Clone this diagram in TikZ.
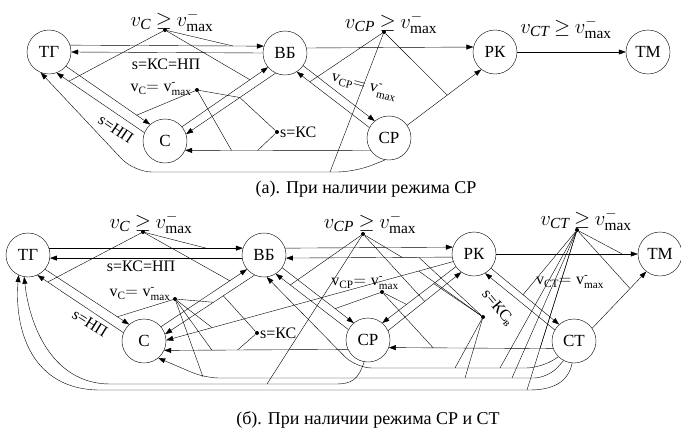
\documentclass[tikz,border=0pt]{standalone}
\usepackage{fontspec}
\setmainfont{Liberation Serif}
\usepackage{amsmath}
\usetikzlibrary{arrows.meta}

\newcommand{\cond}[1]{$v_{\mathit{#1}}\mkern-1mu\geq\mkern-1mu v^{-}_{\max}$}
\newcommand{\eqc}[1]{$\mathrm{v}_{\mathrm{#1}}\mathrm{=v}^{\text{-}}_{\mathrm{max}}$}

\begin{document}
\begin{tikzpicture}[x=1pt, y=-1pt, thin,
    st/.style={circle, draw, minimum size=44pt, inner sep=0pt, font=\fontsize{17}{17}\selectfont},
    jn/.style={circle, fill, inner sep=0pt, minimum size=4pt},
    lab/.style={inner sep=1pt, font=\fontsize{16}{16}\selectfont},
    big/.style={inner sep=0pt, anchor=base, font=\fontsize{22}{22}\selectfont},
    capt/.style={inner sep=1pt, font=\fontsize{18}{18}\selectfont},
    arr/.style={-{Triangle[length=7pt, width=5pt]}}]
    \useasboundingbox (0,0) rectangle (681,434);

    % (a) states
    \node[st] (TGa) at (49,52) {ТГ};
    \node[st] (VBa) at (285,53) {ВБ};
    \node[st] (RKa) at (495,52) {РК};
    \node[st] (TMa) at (648,52) {ТМ};
    \node[st] (Ca) at (165,141) {С};
    \node[st] (CPa) at (389,138) {СР};

    % (a) condition points
    \node[jn] (dCa) at (165,30) {};
    \node[jn] (dCva) at (197,90) {};
    \node[jn] (dKSa) at (277,132) {};
    \node[jn] (dCPa) at (384,32) {};
    \node[big] at (172,26) {\cond{C}};
    \node[big] at (391,28) {\cond{CP}};
    \node[big] at (566,33) {\cond{CT}};
    \node[lab] at (161,89) {\eqc{C}};
    \node[lab, anchor=west] at (279,132) {s=КС};
    \node[lab] at (166,64) {s=КС=НП};
    \node[lab, rotate=-34] at (116,129) {s=НП};
    \node[lab, rotate=-15] at (364,87) {\eqc{CP}};

    % (a) transitions
    \draw[arr] (TGa.18) -- coordinate[pos=.84] (a1) (VBa.162);
    \draw[arr] (VBa.180) -- (TGa.0);
    \draw[arr] (TGa.-40) -- coordinate[pos=.84] (a11) (Ca.132);
    \draw[arr] (Ca.158) -- coordinate[pos=.86] (a2) (TGa.-70);
    \draw[arr] (Ca.40) -- coordinate[pos=.79] (a3) (VBa.220);
    \draw[arr] (VBa.245) -- coordinate[pos=.40] (a4) (Ca.18);
    \draw[arr] (VBa.-35) -- (CPa.130);
    \draw[arr] (CPa.152) -- coordinate[pos=.82] (a6) (VBa.-58);
    \draw[arr] (VBa.13) -- (RKa.167);
    \draw[arr] (CPa.35) -- coordinate[pos=.54] (a7) (RKa.232);
    \draw[arr] (RKa.0) -- (TMa.180);
    \draw[arr] (CPa.-145) -- coordinate[pos=.75] (a8) coordinate[pos=.61] (a9) (Ca.-25);
    \draw[arr, rounded corners=18pt] (CPa.-100) -- (355,172) -- (134,172) -- (TGa.-112);
    \coordinate (a10) at (330,172);

    % (a) condition lines
    \draw (dCa) -- (a1);
    \draw (dCa) -- (a2);
    \draw (dCa) -- (a3);
    \draw (dCva) -- (a11);
    \draw (dCva) -- (a4);
    \draw (dCva) -- (a8);
    \draw (dKSa) -- (a4);
    \draw (dKSa) -- (a9);
    \draw (dCPa) -- (a6);
    \draw (dCPa) -- (a7);
    \draw (dCPa) -- (a10);

    \node[capt] at (366,189) {(а). При наличии режима СР};

    % (b) states
    \node[st] (TGb) at (28,255) {ТГ};
    \node[st] (VBb) at (264,255) {ВБ};
    \node[st] (RKb) at (474,254) {РК};
    \node[st] (TMb) at (660,254) {ТМ};
    \node[st] (Cb) at (144,341) {С};
    \node[st] (CPb) at (368,340) {СР};
    \node[st] (CTb) at (574,341) {СТ};

    % (b) condition points
    \node[jn] (dCb) at (143,232) {};
    \node[jn] (dCvb) at (175,299) {};
    \node[jn] (dKSb) at (257,333) {};
    \node[jn] (dCPb) at (363,234) {};
    \node[jn] (dCPvb) at (382,292) {};
    \node[jn] (dKSvb) at (483,317) {};
    \node[jn] (dCTb) at (577,230) {};
    \node[big] at (151,228) {\cond{C}};
    \node[big] at (370,228) {\cond{CP}};
    \node[big] at (586,225) {\cond{CT}};
    \node[lab] at (141,266) {s=КС=НП};
    \node[lab, rotate=-32] at (90,323) {s=НП};
    \node[lab] at (140,294) {\eqc{C}};
    \node[lab, anchor=west] at (259,333) {s=КС};
    \node[lab] at (365,283) {\eqc{CP}};
    \node[lab] at (570,282) {\eqc{CT}};
    \node[lab, rotate=-50] at (498,308) {s=КС\textsubscript{в}};

    % (b) transitions
    \draw[arr] (TGb.18) -- coordinate[pos=.81] (b1) (VBb.162);
    \draw[arr] (VBb.188) -- (TGb.-8);
    \draw[arr] (VBb.18) -- (RKb.162);
    \draw[arr] (RKb.188) -- coordinate[pos=.30] (b4) coordinate[pos=.20] (b4k) (VBb.-8);
    \draw[arr] (RKb.0) -- coordinate[pos=.89] (b5) (TMb.180);
    \draw[arr] (TGb.-40) -- coordinate[pos=.86] (b6) (Cb.132);
    \draw[arr] (Cb.158) -- coordinate[pos=.88] (b7) (TGb.-65);
    \draw[arr] (Cb.40) -- coordinate[pos=.80] (b8) (VBb.220);
    \draw[arr] (VBb.245) -- coordinate[pos=.46] (b9) coordinate[pos=.35] (b9k) (Cb.18);
    \draw[arr] (VBb.-35) -- coordinate[pos=.74] (b10) (CPb.130);
    \draw[arr] (CPb.152) -- coordinate[pos=.80] (b11) (VBb.-58);
    \draw[arr] (RKb.200) -- coordinate[pos=.84] (b13) coordinate[pos=.12] (b13k) (Cb.2);
    \draw[arr] (CPb.25) -- coordinate[pos=.5] (b14) (RKb.235);
    \draw[arr] (RKb.215) -- coordinate[pos=.67] (b15) coordinate[pos=.3] (b15k) (CPb.50);
    \draw[arr] (RKb.-40) -- coordinate[pos=.47] (b16) (CTb.132);
    \draw[arr] (CTb.150) -- (RKb.-60);
    \draw[arr] (CTb.35) -- coordinate[pos=.70] (b18) (TMb.232);
    \draw[arr] (CTb.-160) -- coordinate[pos=.73] (b19) coordinate[pos=.08] (b19t) (CPb.-20);
    \draw[arr] (CPb.-155) -- coordinate[pos=.74] (b20) coordinate[pos=.6] (b20k) (Cb.-25);
    \draw[arr, rounded corners=16pt] (CTb.-135) -- (542,368) -- (356,368) -- (VBb.-83);
    \draw[arr, rounded corners=14pt] (CTb.-118) -- (548,378) -- (205,378) -- (Cb.-50);
    \draw[arr] (CPb.-100) .. controls (358,380) and (352,384) .. (335,384) -- (110,384) .. controls (55,384) and (30,330) .. (TGb.-100);
    \draw[arr] (CTb.-95) .. controls (570,376) and (560,390) .. (530,390) -- (100,390) .. controls (32,390) and (14,330) .. (TGb.-115);
    \coordinate (l1) at (203,377);
    \coordinate (l3) at (267,384);
    \coordinate (l4) at (455,368);
    \coordinate (l5) at (465,378);
    \coordinate (l6) at (500,368);
    \coordinate (l7) at (512,378);
    \coordinate (l8) at (527,390);

    % (b) condition lines
    \draw (dCb) -- (b1);
    \draw (dCb) -- (b7);
    \draw (dCb) -- (b8);
    \draw (dCvb) -- (b6);
    \draw (dCvb) -- (b9);
    \draw (dCvb) -- (b13);
    \draw (dCvb) -- (b20);
    \draw (dCvb) -- (l1);
    \draw (dKSb) -- (b9k);
    \draw (dKSb) -- (b20k);
    \draw (dCPb) -- (b11);
    \draw (dCPb) -- (b4);
    \draw (dCPb) -- (b14);
    \draw (dCPb) -- (l3);
    \draw (dCPvb) -- (b10);
    \draw (dCPvb) -- (b15);
    \draw (dCPvb) -- (b19);
    \draw (dKSvb) -- (b15k);
    \draw (dKSvb) -- (b4k);
    \draw (dKSvb) -- (b13k);
    \draw (dKSvb) -- (l4);
    \draw (dKSvb) -- (l5);
    \draw (dCTb) -- (b5);
    \draw (dCTb) -- (b16);
    \draw (dCTb) -- (b18);
    \draw (dCTb) -- (b19t);
    \draw (dCTb) -- (l6);
    \draw (dCTb) -- (l7);
    \draw (dCTb) -- (l8);

    \node[capt] at (368,420) {(б). При наличии режима СР и СТ};
\end{tikzpicture}
\end{document}
